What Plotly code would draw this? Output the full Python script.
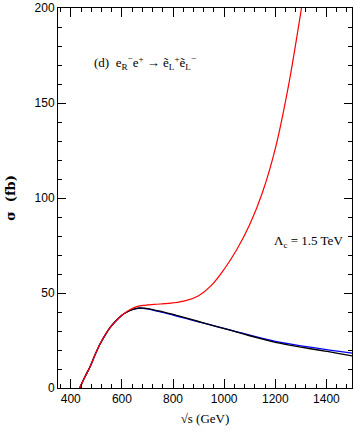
import plotly.graph_objects as go

# sqrt(s) in GeV
sqrt_s_black = [435, 455, 475, 495, 515, 535, 555, 578, 600, 620, 640, 655, 670, 685, 700, 725, 750, 775, 800, 850, 900, 950, 1000, 1050, 1100, 1150, 1200, 1250, 1300, 1350, 1400, 1450, 1500]
sigma_black = [0, 5.8, 11.1, 17.5, 23.3, 28.0, 32.0, 35.5, 38.3, 40.0, 41.2, 41.8, 42.1, 42.0, 41.8, 41.1, 40.4, 39.6, 38.8, 36.9, 35.0, 33.1, 31.3, 29.4, 27.5, 25.7, 24.0, 22.7, 21.5, 20.4, 19.3, 18.1, 16.9]

sqrt_s_blue = sqrt_s_black
sigma_blue = [0, 5.8, 11.1, 17.5, 23.3, 28.0, 32.0, 35.5, 38.3, 40.0, 41.2, 41.8, 42.0, 41.9, 41.6, 40.9, 40.1, 39.3, 38.4, 36.6, 34.8, 33.1, 31.4, 29.6, 27.8, 26.1, 24.5, 23.3, 22.2, 21.2, 20.2, 19.3, 18.4]

sqrt_s_red = [435, 455, 475, 495, 515, 535, 555, 578, 600, 620, 640, 655, 670, 685, 700, 725, 750, 800, 850, 900, 950, 1000, 1050, 1100, 1150, 1200, 1250, 1300, 1320]
sigma_red = [0, 5.8, 11.1, 17.5, 23.3, 28.0, 32.0, 35.5, 38.3, 40.2, 41.8, 42.7, 43.2, 43.5, 43.7, 44.0, 44.2, 44.8, 46.0, 48.6, 54.0, 62.5, 73.0, 86.0, 103.0, 126.0, 158.0, 198.0, 216.0]

x_tickvals = [400, 600, 800, 1000, 1200, 1400]
y_tickvals = [0, 50, 100, 150, 200]

W, H = 354, 436
L, R, T, B = 58, 1, 5, 48

fig = go.Figure()
fig.add_trace(go.Scatter(x=sqrt_s_blue, y=sigma_blue, mode="lines", line=dict(color="#0000ff", width=1.3, shape="spline"), showlegend=False))
fig.add_trace(go.Scatter(x=sqrt_s_black, y=sigma_black, mode="lines", line=dict(color="#000000", width=1.3, shape="spline"), showlegend=False))
fig.add_trace(go.Scatter(x=sqrt_s_red, y=sigma_red, mode="lines", line=dict(color="#ff0000", width=1.2, shape="spline"), showlegend=False))

tick_font = dict(family="Liberation Sans Narrow, Arial Narrow, Liberation Sans, Arial", size=12, color="black")
title_font = dict(family="Liberation Serif, DejaVu Serif, serif", size=13, color="black")

fig.update_layout(
    width=W, height=H,
    margin=dict(l=L, r=R, t=T, b=B),
    paper_bgcolor="white", plot_bgcolor="white",
    xaxis=dict(
        range=[350, 1500], tickvals=x_tickvals, ticks="inside", ticklen=9, tickwidth=1,
        tickcolor="black", mirror="allticks", showline=True, linecolor="black", linewidth=1,
        showgrid=False, zeroline=False, tickfont=tick_font, ticklabeloverflow="allow",
        minor=dict(dtick=40, tick0=0, ticks="inside", ticklen=4, tickcolor="black", showgrid=False),
        title=dict(text="√s (GeV)", font=title_font, standoff=8),
    ),
    yaxis=dict(
        range=[0, 200], tickvals=y_tickvals, ticks="inside", ticklen=8, tickwidth=1,
        tickcolor="black", mirror="allticks", showline=True, linecolor="black", linewidth=1,
        showgrid=False, zeroline=False, tickfont=tick_font, ticklabeloverflow="allow",
        minor=dict(dtick=10, tick0=0, ticks="inside", ticklen=4, tickcolor="black", showgrid=False),
        title=dict(text="<b>σ  (fb)</b>", font=dict(family="DejaVu Serif, Liberation Serif, serif", size=13, color="black"), standoff=16),
    ),
)

plot_w = W - L - R
plot_h = H - T - B
fig.add_annotation(
    x=(92 - L) / plot_w, y=1 - (60 - T) / plot_h, xref="x domain", yref="y domain",
    xanchor="left", yanchor="middle", showarrow=False,
    text="(d)  e<sub>R</sub><sup>−</sup>e<sup>+</sup> → ẽ<sub>L</sub><sup>+</sup>ẽ<sub>L</sub><sup>−</sup>",
    font=dict(family="Liberation Serif, DejaVu Serif, serif", size=13, color="black"),
)
fig.add_annotation(
    x=(346 - L) / plot_w, y=1 - (240 - T) / plot_h, xref="x domain", yref="y domain",
    xanchor="right", yanchor="middle", showarrow=False,
    text="Λ<sub>c</sub> = 1.5 TeV",
    font=dict(family="Liberation Serif, DejaVu Serif, serif", size=13, color="black"),
)

fig.write_html(
    "out.html",
    config={"displayModeBar": False},
    post_script="document.body.style.margin='0';document.body.style.overflow='hidden';",
)
